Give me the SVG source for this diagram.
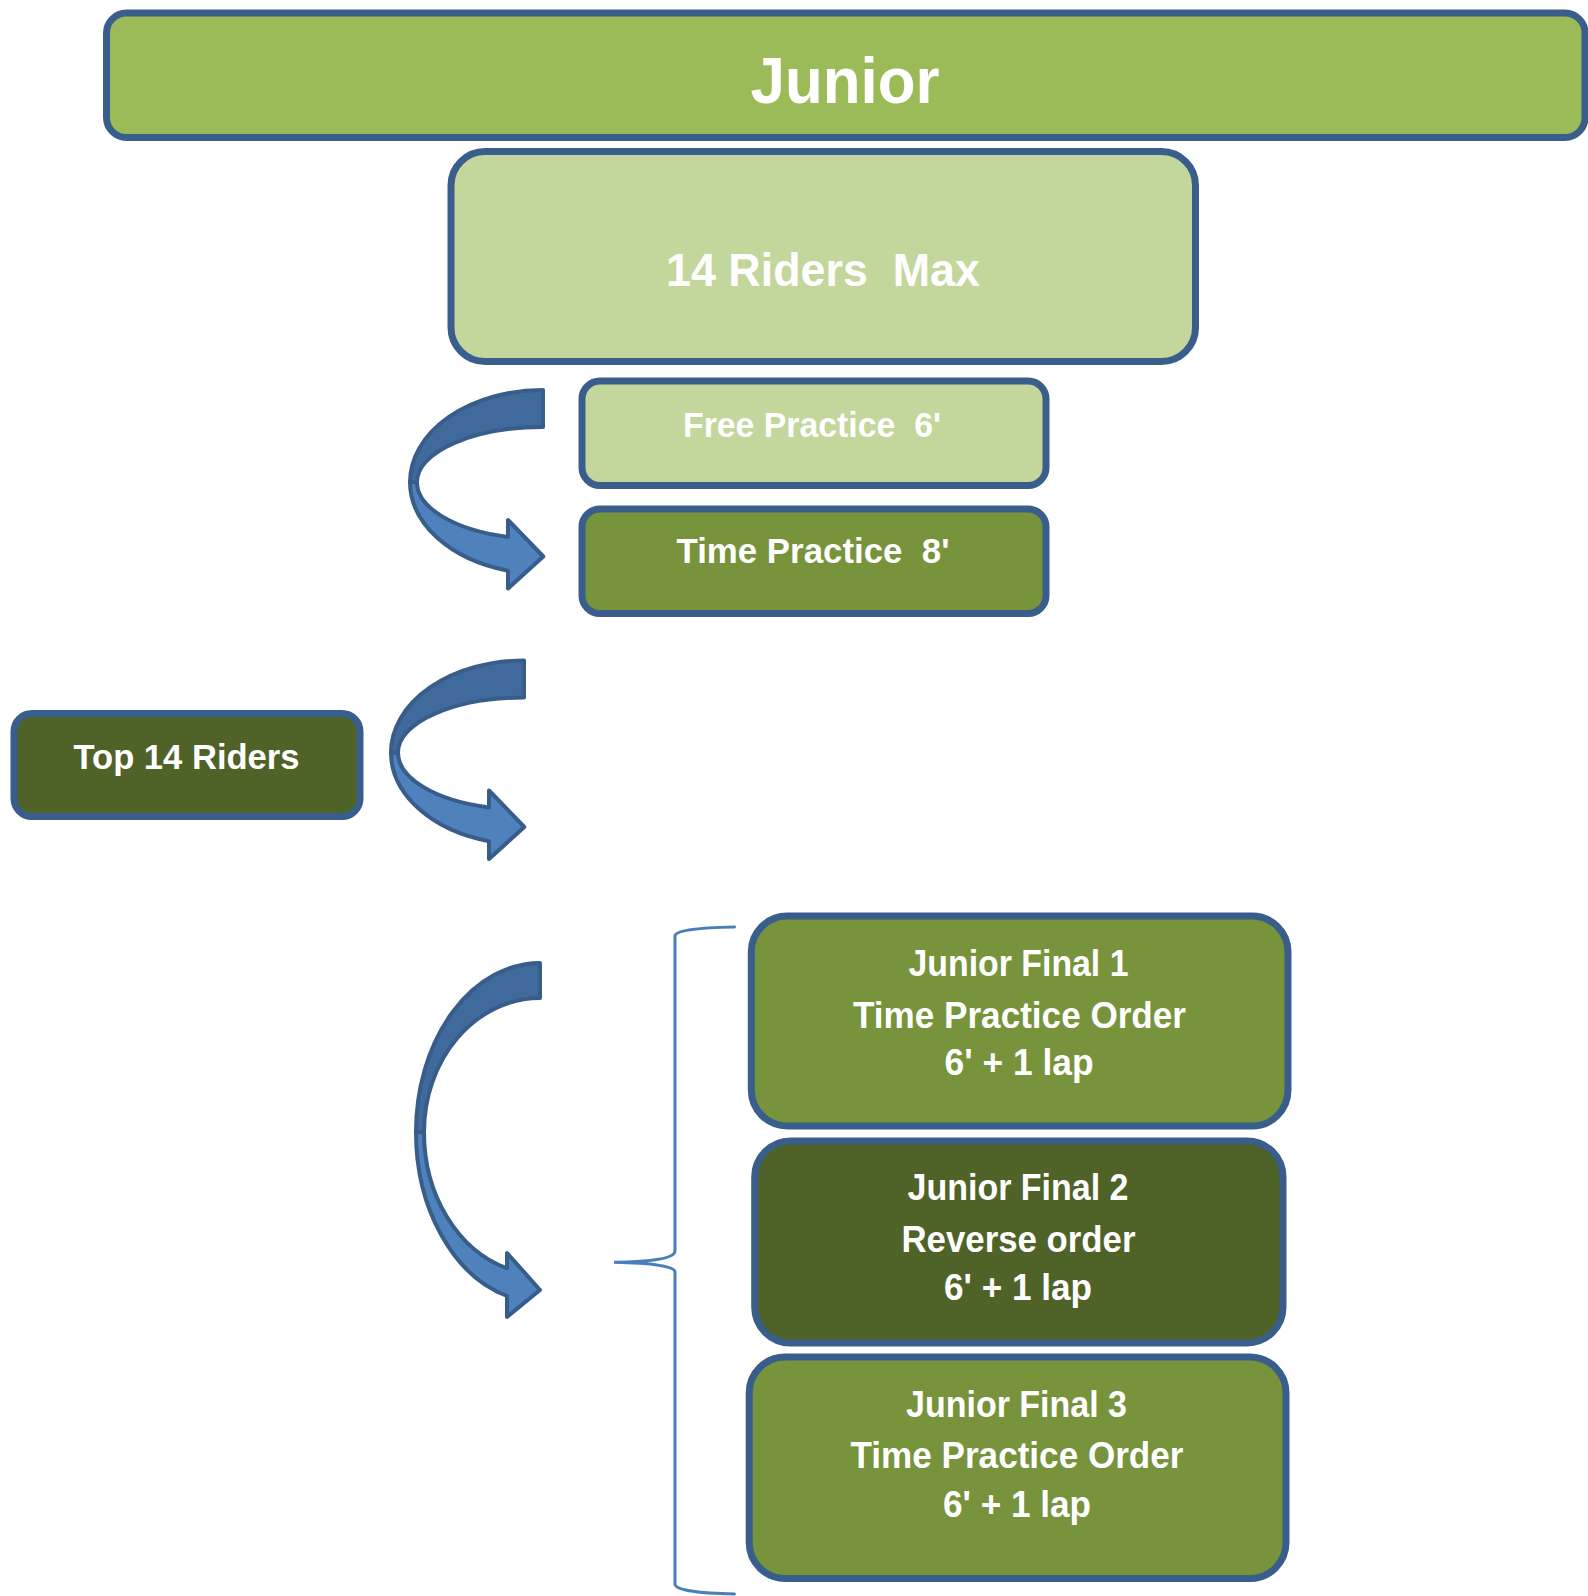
<svg xmlns="http://www.w3.org/2000/svg" width="1588" height="1596" viewBox="0 0 1588 1596">
  <style>
    .box { stroke: #3A5E8C; stroke-width: 7; }
    .lime { fill: #9BBB59; }
    .pale { fill: #C3D69B; }
    .olive { fill: #77933C; }
    .dark { fill: #4F6228; }
    .lbl { font-family: "Liberation Sans", Arial, sans-serif; font-weight: bold; fill: #FFFFFF; text-anchor: middle; }
    .fin { font-size: 36px; }
    .arr-front { fill: #4F81BD; stroke: #385D8A; stroke-width: 4; stroke-linejoin: round; }
    .arr-back { fill: #406A9B; stroke: #385D8A; stroke-width: 4; stroke-linejoin: round; }
    .brace { fill: none; stroke: #4A7EBB; stroke-width: 3; stroke-linecap: round; }
  </style>
  <defs>
    <g id="curl1">
      <path class="arr-front" d="M 410,482 A 133,92 0 0 0 508,570.7 L 508,588.5 L 543.3,556.5 L 508,520 L 508,537 A 126,57 0 0 1 417,482 Z"/>
      <path class="arr-back" d="M 543,390 A 133,92 0 0 0 410,482 L 417,482 A 126,55 0 0 1 543,427 Z"/>
    </g>
  </defs>
  <rect width="1588" height="1596" fill="#FFFFFF"/>

  <g id="junior">
    <rect class="box lime" x="106.5" y="13" width="1478.5" height="124.5" rx="20"/>
    <text class="lbl" x="845" y="102.7" font-size="64" textLength="189" lengthAdjust="spacingAndGlyphs">Junior</text>
  </g>

  <g id="riders-max">
    <rect class="box pale" x="451" y="151.5" width="744.5" height="210" rx="34"/>
    <text class="lbl" x="823" y="285.7" font-size="46" textLength="314" lengthAdjust="spacingAndGlyphs" xml:space="preserve">14 Riders  Max</text>
  </g>

  <g id="free-practice">
    <rect class="box pale" x="582" y="381" width="464" height="104.5" rx="18"/>
    <text class="lbl" x="812" y="436.7" font-size="35" textLength="258" lengthAdjust="spacingAndGlyphs" xml:space="preserve">Free Practice  6'</text>
  </g>

  <g id="time-practice">
    <rect class="box olive" x="582" y="509" width="464" height="104.5" rx="18"/>
    <text class="lbl" x="813" y="563.3" font-size="35" textLength="273" lengthAdjust="spacingAndGlyphs" xml:space="preserve">Time Practice  8'</text>
  </g>

  <g id="top14">
    <rect class="box dark" x="14" y="713.5" width="346" height="103" rx="18"/>
    <text class="lbl" x="186.5" y="769" font-size="35" textLength="226" lengthAdjust="spacingAndGlyphs">Top 14 Riders</text>
  </g>

  <g id="final1">
    <rect class="box olive" x="751.3" y="916" width="536.7" height="210" rx="36"/>
    <text class="lbl fin" x="1018.5" y="976" textLength="220" lengthAdjust="spacingAndGlyphs">Junior Final 1</text>
    <text class="lbl fin" x="1019.5" y="1027.7" textLength="333" lengthAdjust="spacingAndGlyphs">Time Practice Order</text>
    <text class="lbl fin" x="1019" y="1075" textLength="149" lengthAdjust="spacingAndGlyphs">6' + 1 lap</text>
  </g>

  <g id="final2">
    <rect class="box dark" x="754.7" y="1141" width="528.3" height="202" rx="36"/>
    <text class="lbl fin" x="1018" y="1200" textLength="221" lengthAdjust="spacingAndGlyphs">Junior Final 2</text>
    <text class="lbl fin" x="1018.5" y="1251.7" textLength="234" lengthAdjust="spacingAndGlyphs">Reverse order</text>
    <text class="lbl fin" x="1018" y="1300" textLength="148" lengthAdjust="spacingAndGlyphs">6' + 1 lap</text>
  </g>

  <g id="final3">
    <rect class="box olive" x="749.2" y="1357" width="536.8" height="221.5" rx="36"/>
    <text class="lbl fin" x="1016.5" y="1416.7" textLength="221" lengthAdjust="spacingAndGlyphs">Junior Final 3</text>
    <text class="lbl fin" x="1017" y="1468.3" textLength="333" lengthAdjust="spacingAndGlyphs">Time Practice Order</text>
    <text class="lbl fin" x="1017" y="1516.7" textLength="148" lengthAdjust="spacingAndGlyphs">6' + 1 lap</text>
  </g>

  <g id="connectors">
    <use href="#curl1"/>
    <use href="#curl1" transform="translate(-19,270.5)"/>
    <g id="curl3">
      <path class="arr-front" d="M 416,1132 A 124,170 0 0 0 507,1296 L 507,1317 L 540,1290 L 507,1253 L 507,1268.3 A 116,142 0 0 1 424,1132 Z"/>
      <path class="arr-back" d="M 540,963 A 124,169 0 0 0 416,1132 L 424,1132 A 116,134 0 0 1 540,998 Z"/>
    </g>
    <path class="brace" d="M 734.5,927 C 700,927.5 675,930 675,936 L 675,1251 C 675,1258.5 652,1262 614,1262.3 C 652,1263 675,1266 675,1272 L 675,1584 C 675,1590 700,1593.5 734.5,1594"/>
  </g>
</svg>
